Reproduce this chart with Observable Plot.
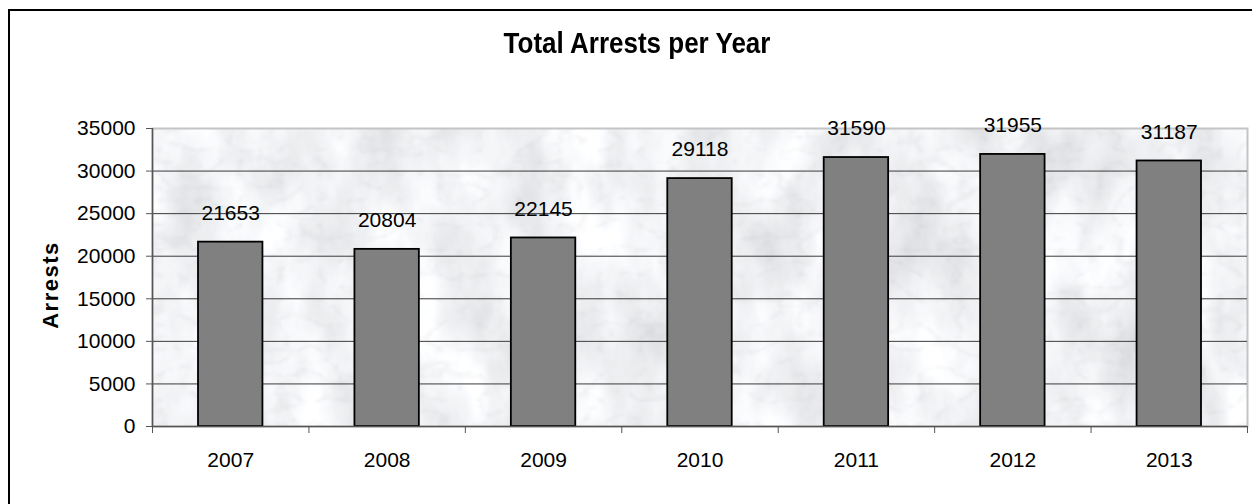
<!DOCTYPE html>
<html>
<head>
<meta charset="utf-8">
<script src="https://cdn.jsdelivr.net/npm/d3@7"></script>
<script src="https://cdn.jsdelivr.net/npm/@observablehq/plot@0.6"></script>
<style>
  html, body { margin: 0; padding: 0; background: #fff; overflow: hidden; }
  #wrap { position: relative; width: 1252px; height: 504px; overflow: hidden; font-family: "Liberation Sans", Arial, sans-serif; }
  #frame { position: absolute; left: 8px; top: 9px; width: 1400px; height: 700px; border: 2px solid #000; box-sizing: border-box; }
  #title { position: absolute; left: 0; width: 1274px; top: 28px; text-align: center; font-weight: bold; font-size: 26px; line-height: 30px; color: #000; transform: scaleY(1.12); }
  #chart { position: absolute; left: 0; top: 0; }
</style>
</head>
<body>
<div id="wrap">
  <div id="frame"></div>
  <div id="title">Total Arrests per Year</div>
  <div id="chart"></div>
</div>
<script>
const years = [2007, 2008, 2009, 2010, 2011, 2012, 2013];
const arrests = [21653, 20804, 22145, 29118, 31590, 31955, 31187];
const yTicks = [0, 5000, 10000, 15000, 20000, 25000, 30000, 35000];
const gridValues = [5000, 10000, 15000, 20000, 25000, 30000];
const yLabel = "Arrests";

const data = years.map((year, i) => ({year, arrests: arrests[i]}));
const boundaries = years.map(y => y - 0.5).concat([years[years.length - 1] + 0.5]);

const marble = (index, scales, values, dims, context, next) => {
  const g = next(index, scales, values, dims, context);
  g.setAttribute("filter", "url(#marble)");
  return g;
};

const plot = Plot.plot({
  width: 1252,
  height: 504,
  marginTop: 128,
  marginBottom: 78,
  marginLeft: 152,
  marginRight: 5,
  style: {fontFamily: "'Liberation Sans', Arial, sans-serif", background: "transparent", overflow: "visible"},
  x: {type: "linear", domain: [years[0] - 0.5, years[years.length - 1] + 0.5]},
  y: {domain: [0, 35000]},
  marks: [
    Plot.frame({fill: "#dde0e3", render: marble}),
    Plot.frame({stroke: "#c4c4c4", strokeWidth: 2}),
    Plot.ruleY(gridValues, {stroke: "#3a3a3a", strokeWidth: 1}),
    Plot.rectY(data, {
      x1: d => d.year - 0.5, x2: d => d.year + 0.5, y: "arrests",
      insetLeft: 46, insetRight: 46,
      fill: "#808080", stroke: "#000", strokeWidth: 1.8
    }),
    Plot.text(data, {x: "year", y: "arrests", text: d => String(d.arrests), dy: -29, fontSize: 21, fill: "#000"}),
    Plot.ruleX([years[0] - 0.5], {stroke: "#555", strokeWidth: 1.5}),
    Plot.ruleY([0], {stroke: "#555", strokeWidth: 1.5}),
    Plot.axisY({ticks: yTicks, tickSize: 6, tickPadding: 11, fontSize: 21, label: null, tickFormat: d => String(d), stroke: "#555", fill: "#000"}),
    Plot.axisX({ticks: boundaries, tickSize: 7, tickFormat: () => "", label: null, stroke: "#555"}),
    Plot.axisX({ticks: years, tickSize: 0, tickPadding: 26, fontSize: 21, label: null, tickFormat: d => String(d), fill: "#000"})
  ]
});

// marble texture filter
const svg = d3.select(plot);
const defs = svg.insert("defs", ":first-child");
const f = defs.append("filter").attr("id", "marble")
  .attr("x", 0).attr("y", 0).attr("width", 1).attr("height", 1)
  .attr("filterUnits", "objectBoundingBox");
f.append("feTurbulence").attr("type", "fractalNoise").attr("baseFrequency", "0.018 0.01")
  .attr("numOctaves", 5).attr("seed", 7).attr("result", "n1");
f.append("feColorMatrix").attr("in", "n1").attr("type", "matrix")
  .attr("values", "0.45 0 0 0 0.66  0.45 0 0 0 0.67  0.45 0 0 0 0.69  0 0 0 0 1").attr("result", "base");
f.append("feTurbulence").attr("type", "turbulence").attr("baseFrequency", "0.025 0.04")
  .attr("numOctaves", 3).attr("seed", 11).attr("result", "n2");
f.append("feColorMatrix").attr("in", "n2").attr("type", "matrix")
  .attr("values", "0 0 0 0 0.45  0 0 0 0 0.46  0 0 0 0 0.48  -0.9 0 0 0 0.2").attr("result", "veins");
f.append("feGaussianBlur").attr("in", "veins").attr("stdDeviation", 1.2).attr("result", "softveins");
f.append("feComposite").attr("in", "softveins").attr("in2", "base").attr("operator", "over");

// y-axis label
svg.append("text")
  .attr("transform", "translate(58,285) rotate(-90)")
  .attr("text-anchor", "middle")
  .attr("font-weight", "bold")
  .attr("font-size", 22)
  .attr("fill", "#000")
  .style("letter-spacing", "1.5px")
  .text(yLabel);

document.getElementById("chart").appendChild(plot);
</script>
</body>
</html>
